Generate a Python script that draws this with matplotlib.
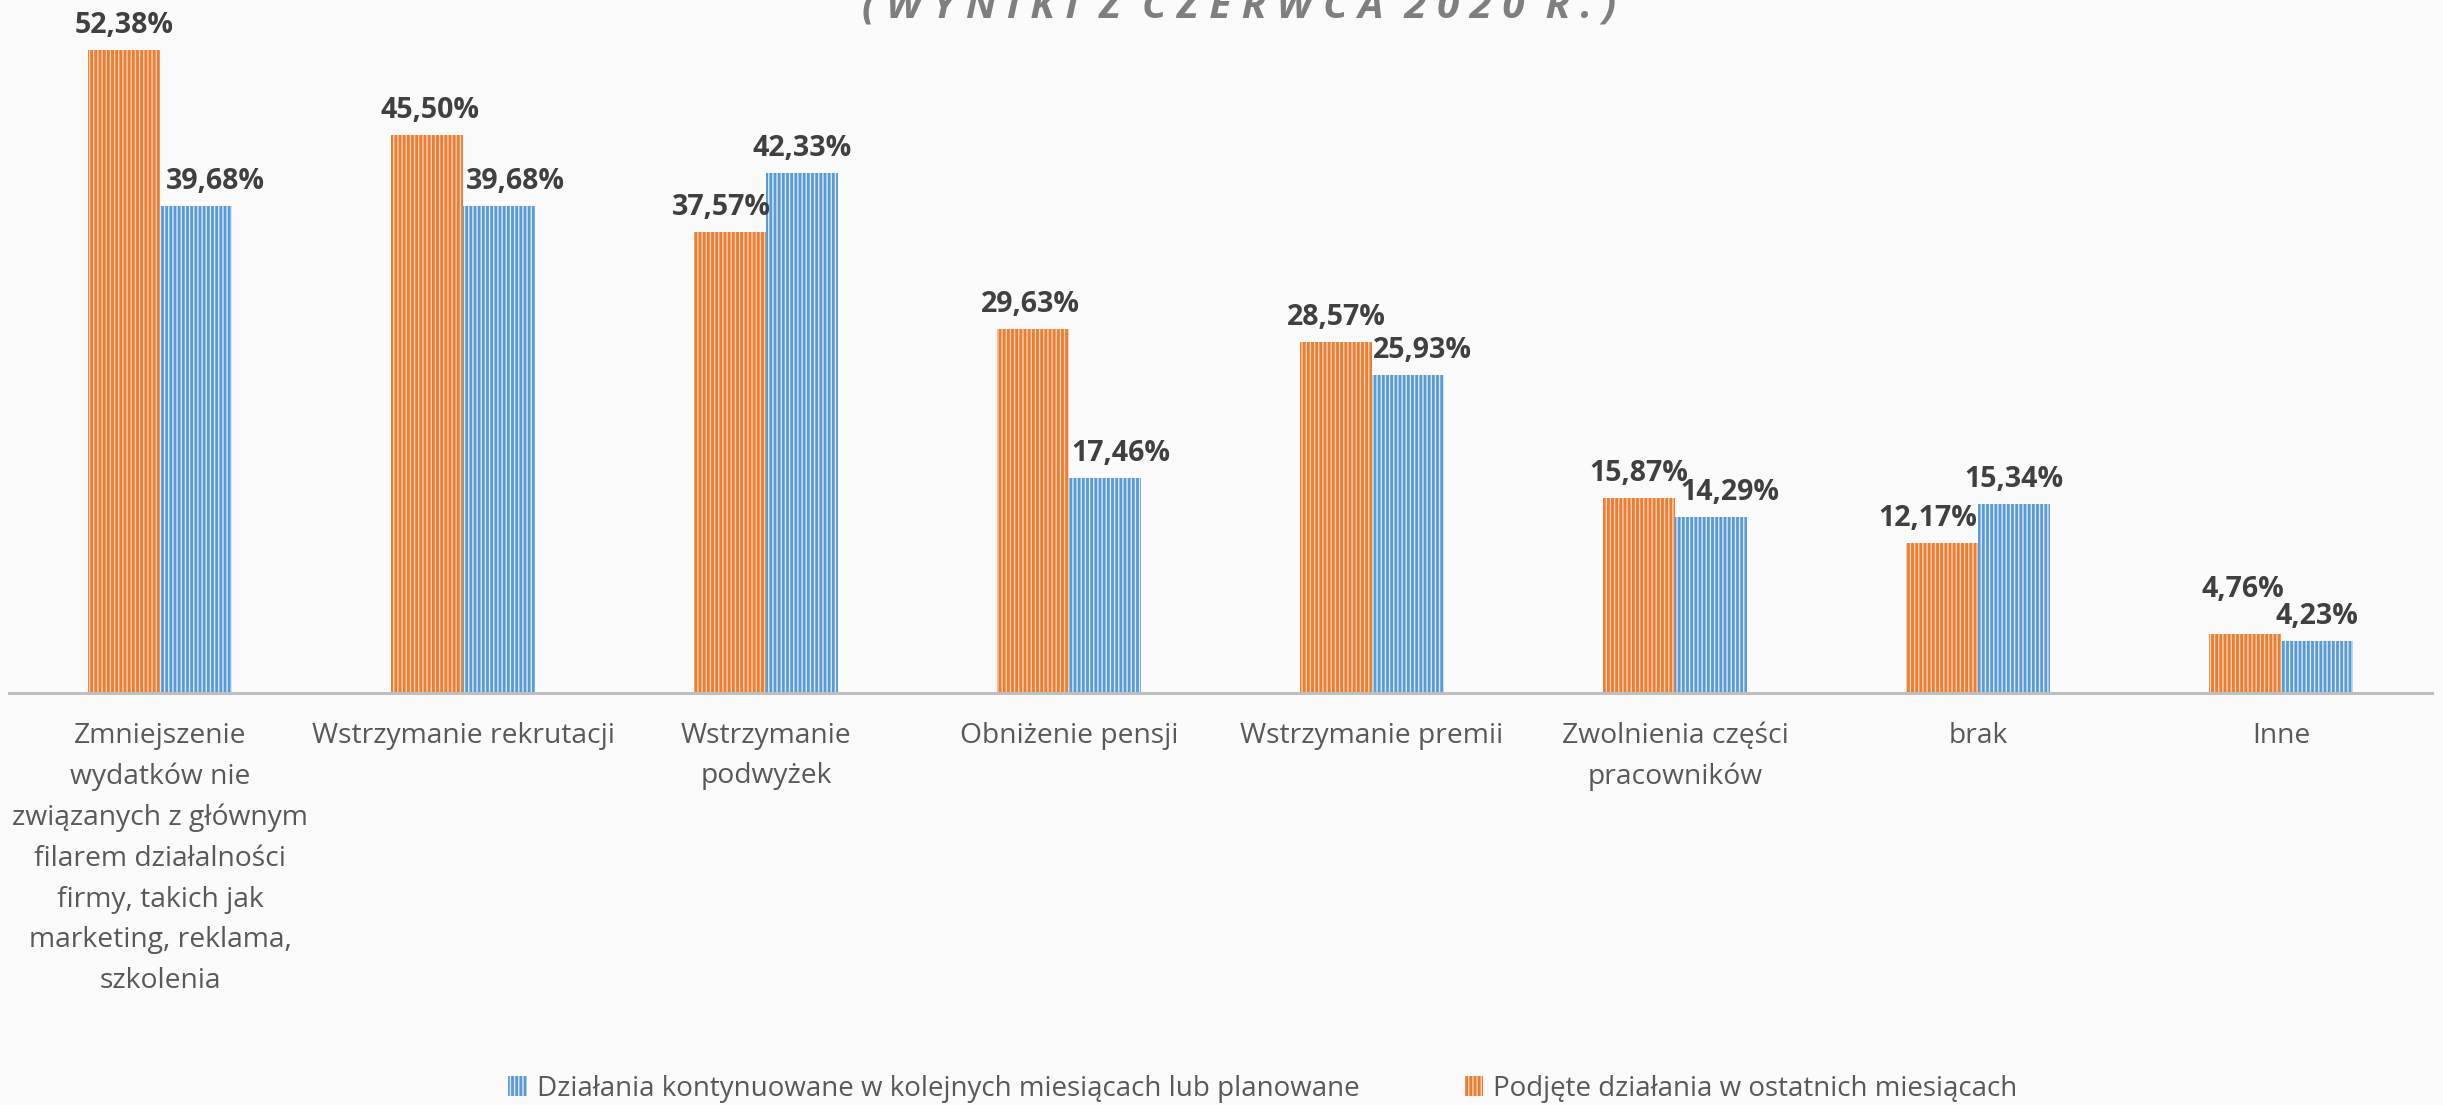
"""Bar chart: actions taken by companies (June 2020 survey results)."""

import matplotlib

matplotlib.use("Agg")
import matplotlib.pyplot as plt
import numpy as np

plt.rcParams["font.family"] = ["Open Sans", "DejaVu Sans"]
plt.rcParams["hatch.linewidth"] = 1.0

title = "(WYNIKI Z CZERWCA 2020 R.)"
categories = [
    "Zmniejszenie\nwydatków nie\nzwiązanych z głównym\nfilarem działalności\nfirmy, takich jak\nmarketing, reklama,\nszkolenia",
    "Wstrzymanie rekrutacji",
    "Wstrzymanie\npodwyżek",
    "Obniżenie pensji",
    "Wstrzymanie premii",
    "Zwolnienia części\npracowników",
    "brak",
    "Inne",
]
series_names = [
    "Działania kontynuowane w kolejnych miesiącach lub planowane",
    "Podjęte działania w ostatnich miesiącach",
]
kontynuowane = [39.68, 39.68, 42.33, 17.46, 25.93, 14.29, 15.34, 4.23]
podjete = [52.38, 45.50, 37.57, 29.63, 28.57, 15.87, 12.17, 4.76]

# label nudges in pixels (Excel moves some labels to avoid overlaps)
nudge_o = [(0, 0), (3, 0), (-9, 0), (-3, 0), (0, 0), (0, 0), (-14, 0), (-2, 20)]
nudge_b = [(19, 0), (16, 0), (0, 0), (16, 0), (14, 0), (19, 0), (0, 0), (0, 0)]

ORANGE = "#ED7D31"
BLUE = "#5B9BD5"
BG = "#fbfbfb"

fig = plt.figure(figsize=(24.43, 11.05), dpi=100, facecolor=BG)
ax = fig.add_axes([0.00348, 0.3733, 0.9922, 0.6267])
ax.set_facecolor(BG)

x = np.arange(len(categories))
w = 0.2376
bars_o = ax.bar(x - w / 2, podjete, w, color=ORANGE, edgecolor="#f9d3b9",
                hatch="||||", linewidth=0)
bars_b = ax.bar(x + w / 2, kontynuowane, w, color=BLUE, edgecolor="#dbe9f6",
                hatch="||||", linewidth=0)

px = 72 / fig.dpi
for bars, vals, nudges in ((bars_o, podjete, nudge_o), (bars_b, kontynuowane, nudge_b)):
    for rect, v, (dx, dy) in zip(bars, vals, nudges):
        ax.annotate(f"{v:.2f}%".replace(".", ","),
                    xy=(rect.get_x() + rect.get_width() / 2, v),
                    xytext=(dx * px, (17 + dy) * px), textcoords="offset points",
                    ha="center", va="baseline", fontsize=20.5,
                    fontweight="bold", color="#404040", annotation_clip=False)

ax.set_xlim(-0.5, len(categories) - 0.5)
ax.set_ylim(0, 56.48)
ax.set_yticks([])
for side in ("top", "left", "right"):
    ax.spines[side].set_visible(False)
ax.spines["bottom"].set_color("#bfbfbf")
ax.spines["bottom"].set_linewidth(2.2)

ax.set_xticks(x, categories)
ax.tick_params(axis="x", length=0, pad=21, labelsize=20.3, labelcolor="#595959")
for t in ax.get_xticklabels():
    t.set_linespacing(1.6)

fig.legend([bars_b, bars_o], series_names, loc="center",
           bbox_to_anchor=(0.517, 0.0145), ncol=2, frameon=False,
           fontsize=20.0, handlelength=0.66, handleheight=0.72,
           handletextpad=0.36, columnspacing=3.8, labelcolor="#595959",
           borderpad=0)

spaced = "  ".join(" ".join(word) for word in title.split(" "))
fig.text(0.507, 1 - 17.5 / 1105, spaced, ha="center", va="baseline",
         fontsize=29, style="italic", fontweight="bold", color="#7f7f7f")

fig.savefig("out.png", dpi=100, facecolor=BG)
